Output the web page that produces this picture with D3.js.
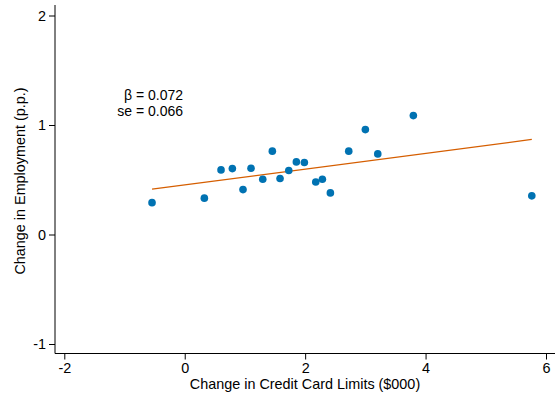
<!DOCTYPE html>
<html>
<head>
<meta charset="utf-8">
<script src="https://cdn.jsdelivr.net/npm/d3@7"></script>
<style>
  html, body { margin: 0; padding: 0; background: #fff; }
  svg { display: block; font-family: "Liberation Sans", Arial, Helvetica, sans-serif; }
</style>
</head>
<body>
<svg id="chart" width="555" height="397"></svg>
<script>
// Binned scatter: change in credit card limits vs change in employment
const limitChange = [-0.543, 0.326, 0.603, 0.791, 0.968, 1.101, 1.296, 1.455, 1.583, 1.728,
                     1.854, 1.987, 2.176, 2.286, 2.419, 2.724, 3.000, 3.206, 3.797, 5.764];
const employmentChange = [0.291, 0.332, 0.590, 0.602, 0.410, 0.605, 0.505, 0.761, 0.511, 0.584,
                          0.663, 0.657, 0.480, 0.505, 0.380, 0.761, 0.958, 0.736, 1.086, 0.353];

// Regression estimates
const beta = 0.072;
const se = 0.066;
const intercept = 0.453;

const xTicks = [-2, 0, 2, 4, 6];
const yTicks = [-1, 0, 1, 2];

const FS = 14.4;
const svg = d3.select("#chart");

const x = d3.scaleLinear().domain([-2, 6]).range([64.3, 546]);
const y = d3.scaleLinear().domain([-1, 2]).range([344, 15.5]);

const axisX = 55, axisY = 353.5;
const plain = d => String(d); // hyphen-minus, as printed on the axes

// Axes
const gx = svg.append("g").attr("transform", `translate(0,${axisY})`)
  .call(d3.axisBottom(x).tickValues(xTicks).tickSize(6).tickPadding(3).tickFormat(plain));
gx.select(".domain").remove();
gx.selectAll(".tick line").attr("stroke", "#000");
gx.selectAll(".tick text").attr("font-size", FS).attr("fill", "#000")
  .attr("font-family", "Liberation Sans, Arial, sans-serif");

const gy = svg.append("g").attr("transform", `translate(${axisX},0)`)
  .call(d3.axisLeft(y).tickValues(yTicks).tickSize(6).tickPadding(3).tickFormat(plain));
gy.select(".domain").remove();
gy.selectAll(".tick line").attr("stroke", "#000");
gy.selectAll(".tick text").attr("font-size", FS).attr("fill", "#000")
  .attr("font-family", "Liberation Sans, Arial, sans-serif");

// Axis lines
svg.append("line").attr("x1", axisX).attr("x2", axisX).attr("y1", 5).attr("y2", axisY)
  .attr("stroke", "#000").attr("stroke-width", 1);
svg.append("line").attr("x1", axisX).attr("x2", 555).attr("y1", axisY).attr("y2", axisY)
  .attr("stroke", "#000").attr("stroke-width", 1);

// Axis titles
svg.append("text").attr("x", 305).attr("y", 389).attr("text-anchor", "middle")
  .attr("font-size", FS).text("Change in Credit Card Limits ($000)");
svg.append("text").attr("transform", "translate(25,181) rotate(-90)")
  .attr("text-anchor", "middle").attr("font-size", FS).text("Change in Employment (p.p.)");

// Fitted line across the range of the data
const [xmin, xmax] = d3.extent(limitChange);
svg.append("line")
  .attr("x1", x(xmin)).attr("y1", y(intercept + beta * xmin))
  .attr("x2", x(xmax)).attr("y2", y(intercept + beta * xmax))
  .attr("stroke", "#D55E00").attr("stroke-width", 1.3);

// Points
svg.append("g").selectAll("circle")
  .data(limitChange.map((d, i) => [d, employmentChange[i]]))
  .join("circle")
  .attr("cx", d => x(d[0])).attr("cy", d => y(d[1])).attr("r", 3.8)
  .attr("fill", "#0072B2");

// Coefficient annotation
const note = svg.append("text").attr("text-anchor", "end").attr("font-size", 14);
note.append("tspan").attr("x", 183).attr("y", 100).text(`β = ${beta.toFixed(3)}`);
note.append("tspan").attr("x", 183).attr("y", 115.5).text(`se = ${se.toFixed(3)}`);
</script>
</body>
</html>
